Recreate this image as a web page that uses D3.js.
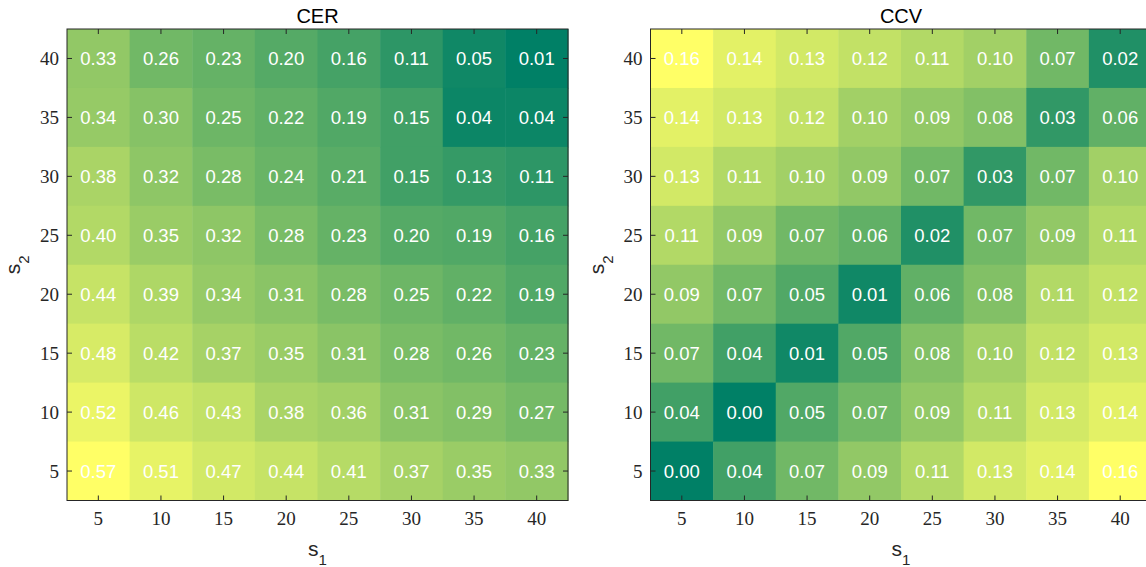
<!DOCTYPE html>
<html><head><meta charset="utf-8">
<script src="https://cdn.jsdelivr.net/npm/d3@7"></script>
<style>body{margin:0;background:#fff;overflow:hidden}</style>
</head><body>
<svg id="c" width="1146" height="567"></svg>
<script>
const s1 = [5,10,15,20,25,30,35,40];
const s2 = [5,10,15,20,25,30,35,40];
const tickLabels = ["5","10","15","20","25","30","35","40"];
// rows ordered from s2=40 (top) to s2=5 (bottom)
const cerValues = [
 [0.33,0.26,0.23,0.20,0.16,0.11,0.05,0.01],
 [0.34,0.30,0.25,0.22,0.19,0.15,0.04,0.04],
 [0.38,0.32,0.28,0.24,0.21,0.15,0.13,0.11],
 [0.40,0.35,0.32,0.28,0.23,0.20,0.19,0.16],
 [0.44,0.39,0.34,0.31,0.28,0.25,0.22,0.19],
 [0.48,0.42,0.37,0.35,0.31,0.28,0.26,0.23],
 [0.52,0.46,0.43,0.38,0.36,0.31,0.29,0.27],
 [0.57,0.51,0.47,0.44,0.41,0.37,0.35,0.33]
];
const ccvValues = [
 [0.16,0.14,0.13,0.12,0.11,0.10,0.07,0.02],
 [0.14,0.13,0.12,0.10,0.09,0.08,0.03,0.06],
 [0.13,0.11,0.10,0.09,0.07,0.03,0.07,0.10],
 [0.11,0.09,0.07,0.06,0.02,0.07,0.09,0.11],
 [0.09,0.07,0.05,0.01,0.06,0.08,0.11,0.12],
 [0.07,0.04,0.01,0.05,0.08,0.10,0.12,0.13],
 [0.04,0.00,0.05,0.07,0.09,0.11,0.13,0.14],
 [0.00,0.04,0.07,0.09,0.11,0.13,0.14,0.16]
];
const s2Rows = [40,35,30,25,20,15,10,5];

const svg = d3.select("#c");
const axCol = "#262626";
const serif = "'Liberation Serif', 'DejaVu Serif', serif";
const sans = "'Liberation Sans', Arial, Helvetica, sans-serif";

function summer(t){ // MATLAB summer colormap, 64 levels
  const n=64; let i=Math.floor(t*n); if(i>n-1)i=n-1; if(i<0)i=0;
  const r=i/(n-1);
  return d3.rgb(Math.round(r*255), Math.round((0.5+0.5*r)*255), Math.round(0.4*255));
}

function panel(x0, title, values){
  const W=501, H=471.5, y0=29;
  const g = svg.append("g").attr("transform",`translate(${x0},${y0})`);
  const x = d3.scaleBand().domain(s1).range([0,W]);
  const y = d3.scaleBand().domain(s2Rows).range([0,H]);
  const flat = values.flat();
  const c = d3.scaleLinear().domain(d3.extent(flat)).range([0,1]);
  const cells=[];
  values.forEach((row,ri)=>row.forEach((v,ci)=>cells.push({a:s1[ci],b:s2Rows[ri],v})));
  g.selectAll("rect.cell").data(cells).join("rect")
    .attr("x",d=>x(d.a)).attr("y",d=>y(d.b))
    .attr("width",x.bandwidth()+0.5).attr("height",y.bandwidth()+0.5)
    .attr("fill",d=>summer(c(d.v)));
  g.selectAll("text.val").data(cells).join("text")
    .attr("x",d=>x(d.a)+x.bandwidth()/2).attr("y",d=>y(d.b)+y.bandwidth()/2+6.5)
    .attr("text-anchor","middle")
    .style("font-family",sans).style("font-size","18.5px")
    .attr("fill","#fff").text(d=>d.v.toFixed(2));
  g.append("rect").attr("width",W).attr("height",H).attr("fill","none")
    .attr("stroke",axCol).attr("stroke-width",1);
  const tl=5;
  s1.forEach((v,i)=>{
    const cx=x(v)+x.bandwidth()/2;
    g.append("line").attr("x1",cx).attr("x2",cx).attr("y1",H).attr("y2",H-tl).attr("stroke",axCol);
    g.append("line").attr("x1",cx).attr("x2",cx).attr("y1",0).attr("y2",tl).attr("stroke",axCol);
    g.append("text").attr("x",cx).attr("y",H+24.5).attr("text-anchor","middle")
      .style("font-family",serif).style("font-size","19px")
      .attr("fill",axCol).text(tickLabels[i]);
  });
  s2.forEach((v,i)=>{
    const cy=y(v)+y.bandwidth()/2;
    g.append("line").attr("x1",0).attr("x2",tl).attr("y1",cy).attr("y2",cy).attr("stroke",axCol);
    g.append("line").attr("x1",W).attr("x2",W-tl).attr("y1",cy).attr("y2",cy).attr("stroke",axCol);
    g.append("text").attr("x",-8).attr("y",cy+6.5).attr("text-anchor","end")
      .style("font-family",serif).style("font-size","19px")
      .attr("fill",axCol).text(tickLabels[i]);
  });
  g.append("text").attr("x",W/2).attr("y",-6).attr("text-anchor","middle")
    .style("font-family",sans).style("font-size","20px")
    .attr("fill","#000").text(title);
  const xl = g.append("text").attr("x",W/2).attr("y",H+55.5).attr("text-anchor","middle")
    .style("font-family",sans).style("font-size","21px").attr("fill",axCol);
  xl.append("tspan").text("s");
  xl.append("tspan").style("font-size","15px").attr("dy",9).text("1");
  const yl = g.append("text").attr("transform",`translate(-47,${H/2}) rotate(-90)`).attr("text-anchor","middle")
    .style("font-family",sans).style("font-size","21px").attr("fill",axCol);
  yl.append("tspan").text("s");
  yl.append("tspan").style("font-size","15px").attr("dy",9).text("2");
}
panel(67,"CER",cerValues);
panel(650.5,"CCV",ccvValues);
</script>
</body></html>
